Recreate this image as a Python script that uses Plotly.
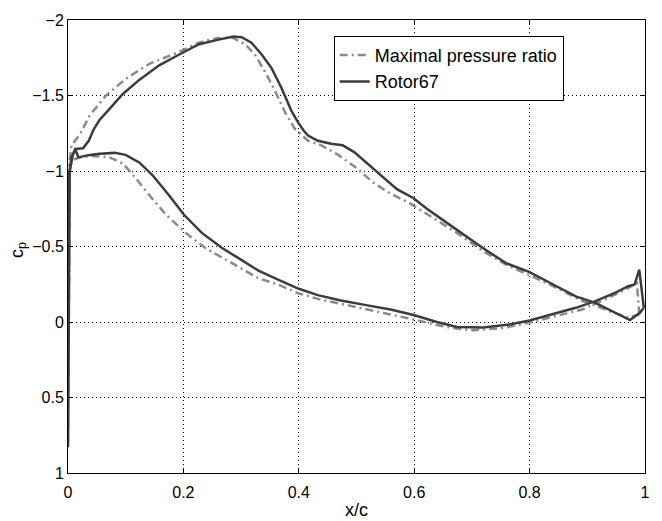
import plotly.graph_objects as go

# ---------------- data ----------------
# Rotor67 (solid) – suction side, from leading edge to trailing edge
rotor_suction_x = [0.000, 0.002, 0.006, 0.0125, 0.026, 0.036, 0.045, 0.055, 0.067, 0.095, 0.124,
                   0.158, 0.192, 0.227, 0.261, 0.287, 0.301, 0.318, 0.336, 0.353, 0.370, 0.387,
                   0.399, 0.408, 0.416, 0.433, 0.456, 0.476, 0.496, 0.519, 0.536, 0.548, 0.570, 0.599,
                   0.622, 0.674, 0.719, 0.759, 0.800, 0.845, 0.880, 0.914, 0.943, 0.974, 0.991, 0.998]
rotor_suction_cp = [0.83, -0.98, -1.09, -1.146, -1.15, -1.20, -1.28, -1.34, -1.39, -1.51, -1.605,
                    -1.70, -1.77, -1.84, -1.87, -1.89, -1.886, -1.85, -1.77, -1.68, -1.55, -1.40,
                    -1.32, -1.27, -1.235, -1.20, -1.18, -1.17, -1.125, -1.05, -0.99, -0.95, -0.88, -0.82,
                    -0.75, -0.61, -0.49, -0.39, -0.33, -0.24, -0.17, -0.127, -0.072, -0.013, -0.061, -0.094]
# Rotor67 – pressure side, from leading edge to trailing edge
rotor_pressure_x = [0.000, 0.003, 0.008, 0.0125, 0.018, 0.024, 0.035, 0.055, 0.081, 0.100, 0.124,
                    0.147, 0.175, 0.201, 0.232, 0.267, 0.301, 0.330, 0.364, 0.400, 0.433, 0.473,
                    0.519, 0.559, 0.599, 0.639, 0.674, 0.719, 0.765, 0.800, 0.840, 0.880, 0.914,
                    0.948, 0.971, 0.982, 0.990, 0.994, 0.998]
rotor_pressure_cp = [0.83, -1.0, -1.10, -1.146, -1.09, -1.095, -1.105, -1.115, -1.12, -1.107, -1.055,
                     -0.97, -0.84, -0.71, -0.59, -0.49, -0.41, -0.34, -0.28, -0.22, -0.178, -0.143,
                     -0.11, -0.083, -0.046, 0.0, 0.033, 0.037, 0.016, -0.01, -0.05, -0.094, -0.138,
                     -0.193, -0.237, -0.248, -0.347, -0.226, -0.094]

# Maximal pressure ratio (dash-dot) – suction side
maxpr_suction_x = [0.000, 0.002, 0.006, 0.021, 0.038, 0.066, 0.100, 0.141, 0.187, 0.227, 0.258,
                   0.284, 0.307, 0.324, 0.341, 0.359, 0.376, 0.393, 0.416, 0.439, 0.467, 0.500,
                   0.530, 0.559, 0.593, 0.628, 0.674, 0.719, 0.759, 0.800, 0.845, 0.891, 0.914,
                   0.943, 0.971, 0.990]
maxpr_suction_cp = [0.80, -1.04, -1.17, -1.245, -1.37, -1.50, -1.61, -1.71, -1.78, -1.85, -1.88,
                    -1.885, -1.84, -1.77, -1.66, -1.53, -1.39, -1.28, -1.20, -1.17, -1.11, -1.02,
                    -0.92, -0.85, -0.785, -0.70, -0.59, -0.47, -0.38, -0.31, -0.23, -0.14, -0.11,
                    -0.065, -0.03, -0.05]
# Maximal pressure ratio – pressure side
maxpr_pressure_x = [0.000, 0.003, 0.006, 0.020, 0.043, 0.072, 0.095, 0.118, 0.141, 0.170, 0.204,
                    0.238, 0.284, 0.330, 0.364, 0.400, 0.433, 0.473, 0.519, 0.559, 0.599, 0.639,
                    0.668, 0.702, 0.754, 0.800, 0.845, 0.891, 0.931, 0.966, 0.986, 0.990]
maxpr_pressure_cp = [0.80, -1.0, -1.07, -1.09, -1.10, -1.09, -1.05, -0.95, -0.84, -0.71, -0.59,
                     -0.49, -0.39, -0.29, -0.248, -0.189, -0.153, -0.116, -0.079, -0.05, -0.017, 0.02,
                     0.04, 0.055, 0.04, 0.004, -0.04, -0.083, -0.15, -0.215, -0.26, -0.05]

x_ticks = [0, 0.2, 0.4, 0.6, 0.8, 1]
x_tick_labels = ["0", "0.2", "0.4", "0.6", "0.8", "1"]
y_ticks = [-2, -1.5, -1, -0.5, 0, 0.5, 1]
y_tick_labels = ["\u22122", "\u22121.5", "\u22121", "\u22120.5", "0", "0.5", "1"]

series_names = ["Maximal pressure ratio", "Rotor67"]


def loop(px, pcp, sx, scp):
    # pressure side from trailing edge back to the leading edge, then suction side
    return list(reversed(px)) + sx[1:], list(reversed(pcp)) + scp[1:]


FONT = "Liberation Sans, Arial, Helvetica, sans-serif"

fig = go.Figure()
mx, mcp = loop(maxpr_pressure_x, maxpr_pressure_cp, maxpr_suction_x, maxpr_suction_cp)
fig.add_trace(go.Scatter(x=mx, y=mcp, mode="lines", name=series_names[0],
                         line=dict(color="#8a8a8a", width=2.5, dash="8px,4px,2px,4px")))
rx, rcp = loop(rotor_pressure_x, rotor_pressure_cp, rotor_suction_x, rotor_suction_cp)
fig.add_trace(go.Scatter(x=rx, y=rcp, mode="lines", name=series_names[1],
                         line=dict(color="#3c3c3c", width=2.5)))

axis_common = dict(
    showgrid=True, gridcolor="#000000", gridwidth=1, griddash="1px,3px",
    showline=True, linecolor="#000000", linewidth=1, mirror="allticks",
    ticks="inside", ticklen=5, tickcolor="#000000", zeroline=False,
    tickfont=dict(family=FONT, size=16, color="#000000"),
)

fig.update_layout(
    width=662, height=521,
    margin=dict(l=68, r=12, t=17, b=48),
    paper_bgcolor="white", plot_bgcolor="white",
    font=dict(family=FONT, color="#000000"),
    xaxis=dict(range=[0, 1], tickvals=x_ticks, ticktext=x_tick_labels,
               ticklabelstandoff=5, **axis_common),
    yaxis=dict(range=[1, -2], tickvals=y_ticks, ticktext=y_tick_labels, **axis_common),
    legend=dict(x=0.4605, y=0.965, xanchor="left", yanchor="top",
                bordercolor="#000000", borderwidth=1, bgcolor="white",
                font=dict(family=FONT, size=18, color="#000000"),
                tracegroupgap=0),
    showlegend=True,
)

fig.add_annotation(text="x/c", xref="paper", yref="paper", x=0.5, y=-0.081,
                   xanchor="center", yanchor="middle", showarrow=False,
                   font=dict(family=FONT, size=18, color="#000000"))
fig.add_annotation(text="c<sub>p</sub>", xref="paper", yref="paper", x=-0.086, y=0.493,
                   xanchor="center", yanchor="middle", showarrow=False, textangle=-90,
                   font=dict(family=FONT, size=18, color="#000000"))

fig.write_html("out.html", config={"displayModeBar": False},
               post_script="document.body.style.margin='0';document.body.style.overflow='hidden';")
